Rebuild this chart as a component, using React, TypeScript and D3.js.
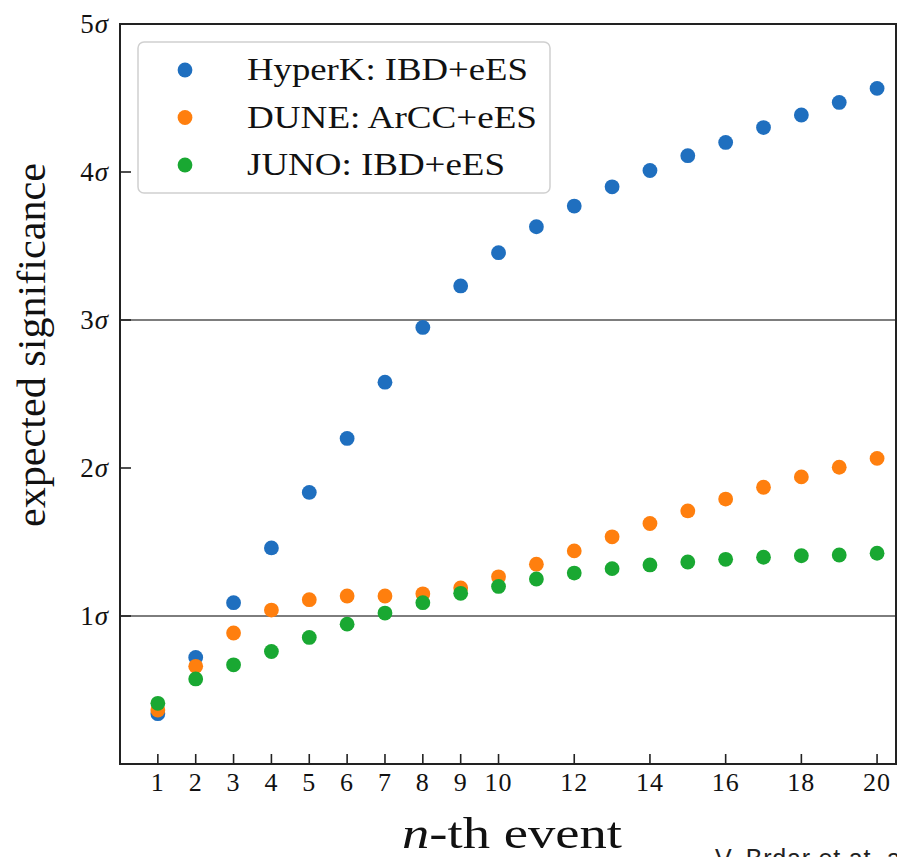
import React from "react";
import * as d3 from "d3";

const nValues = [1, 2, 3, 4, 5, 6, 7, 8, 9, 10, 11, 12, 13, 14, 15, 16, 17, 18, 19, 20];
const hyperK = [0.34, 0.72, 1.09, 1.46, 1.835, 2.2, 2.58, 2.95, 3.23, 3.455, 3.63, 3.77, 3.9, 4.01, 4.11, 4.2, 4.3, 4.385, 4.47, 4.565];
const dune = [0.365, 0.66, 0.885, 1.04, 1.11, 1.135, 1.135, 1.15, 1.19, 1.265, 1.35, 1.44, 1.535, 1.625, 1.71, 1.79, 1.87, 1.94, 2.005, 2.065];
const juno = [0.41, 0.575, 0.67, 0.76, 0.855, 0.945, 1.02, 1.09, 1.153, 1.2, 1.25, 1.29, 1.32, 1.345, 1.365, 1.383, 1.397, 1.407, 1.412, 1.424];
const seriesNames = ["HyperK: IBD+eES", "DUNE: ArCC+eES", "JUNO: IBD+eES"];
const seriesColors = ["#1f6fbf", "#ff7f0e", "#19a832"];
const xTicks = [1, 2, 3, 4, 5, 6, 7, 8, 9, 10, 12, 14, 16, 18, 20];
const yTicks = [1, 2, 3, 4, 5];
const hLines = [1, 3];

const W = 897;
const H = 857;
const serif = "'Liberation Serif', 'DejaVu Serif', serif";
// rendered text widths (layout, not data)
const legendTextWidths = [281, 290, 258];

export default function App() {
  const x = d3.scaleLinear().domain([0, 20.5]).range([120, 896]);
  const y = d3.scaleLinear().domain([0, 5]).range([764, 24]);
  const allSeries = [hyperK, dune, juno];
  const [x0, x1] = x.range();
  const [y0, y1] = y.range();

  return (
    <svg width={W} height={H} style={{ position: "absolute", left: 0, top: 0, background: "#fff" }}>
      <rect x={0} y={0} width={W} height={H} fill="#fff" />
      {hLines.map((v) => (
        <line key={v} x1={x0} x2={x1} y1={y(v)} y2={y(v)} stroke="#7d7d7d" strokeWidth={2.2} />
      ))}
      {allSeries.map((s, si) => (
        <g key={si}>
          {s.map((v, i) => (
            <circle key={i} cx={x(nValues[i])} cy={y(v)} r={7.4} fill={seriesColors[si]} />
          ))}
        </g>
      ))}
      {/* frame */}
      <rect x={x0} y={y1} width={x1 - x0} height={y0 - y1} fill="none" stroke="#222" strokeWidth={2} />
      {/* x ticks */}
      {xTicks.map((t) => (
        <g key={t}>
          <line x1={x(t)} x2={x(t)} y1={y0} y2={y0 - 10} stroke="#222" strokeWidth={1.6} />
          <text x={x(t)} y={791} textAnchor="middle" fontFamily={serif} fontSize={26} letterSpacing={1} fill="#111">
            {t}
          </text>
        </g>
      ))}
      {/* y ticks */}
      {yTicks.map((t) => (
        <g key={t}>
          <line x1={x0} x2={x0 + 11} y1={y(t)} y2={y(t)} stroke="#222" strokeWidth={1.6} />
          <text x={108} y={y(t) + 9} textAnchor="end" fontFamily={serif} fontSize={27} fill="#111">
            {t}
            <tspan fontStyle="italic" dx={1}>σ</tspan>
          </text>
        </g>
      ))}
      {/* axis labels */}
      <text
        x={402}
        y={848}
        fontFamily={serif}
        fontSize={44}
        textLength={220}
        lengthAdjust="spacingAndGlyphs"
        fill="#111"
      >
        <tspan fontStyle="italic">n</tspan>-th event
      </text>
      <text
        transform={`translate(45, 527) rotate(-90)`}
        fontFamily={serif}
        fontSize={40}
        textLength={364}
        lengthAdjust="spacingAndGlyphs"
        fill="#111"
      >
        expected significance
      </text>
      {/* legend */}
      <rect x={138} y={42} width={412} height={151} rx={6} fill="#fff" fillOpacity={0.85} stroke="#d0d0d0" strokeWidth={1.5} />
      {seriesNames.map((name, i) => (
        <g key={name}>
          <circle cx={185} cy={70 + i * 47.5} r={7.4} fill={seriesColors[i]} />
          <text
            x={247}
            y={70 + i * 47.5 + 10}
            fontFamily={serif}
            fontSize={32}
            textLength={legendTextWidths[i]}
            lengthAdjust="spacingAndGlyphs"
            fill="#111"
          >
            {name}
          </text>
        </g>
      ))}
      <text x={715} y={867} fontFamily="'Liberation Sans', Arial, sans-serif" fontSize={25} letterSpacing={0.8} fill="#222">
        V. Brdar et at. arXiv
      </text>
    </svg>
  );
}
